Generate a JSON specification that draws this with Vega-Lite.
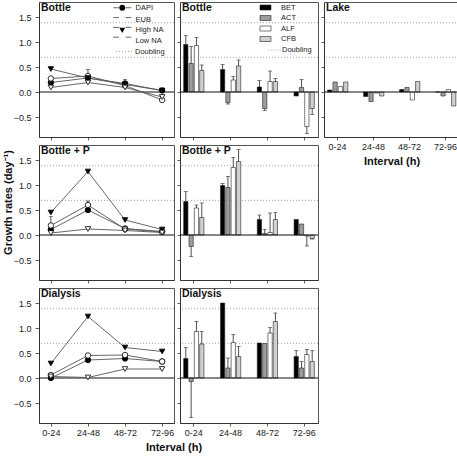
{
  "$schema": "https://vega.github.io/schema/vega-lite/v6.json",
  "padding": {"left": 1, "top": 1, "right": 0, "bottom": 0},
  "background": "white",
  "config": {
    "font": "Liberation Sans",
    "view": {"stroke": "#555", "strokeWidth": 1},
    "axis": {
      "labelFont": "Liberation Sans", "titleFont": "Liberation Sans",
      "labelFontSize": 9, "labelColor": "#222",
      "tickColor": "#333", "domainColor": "#333", "tickWidth": 0.8, "domainWidth": 1,
      "grid": false, "titleFontSize": 11, "titleFontWeight": "bold", "titleColor": "#111"
    },
    "legend": {"labelFont": "Liberation Sans", "labelFontSize": 7.5, "labelColor": "#222", "padding": 0, "title": null}
  },
  "datasets": {
    "doubling": [{"rate": 0.693, "k": "Doubling"}, {"rate": 1.386, "k": "Doubling"}],
    "zero": [{"rate": 0}],
    "lines": [
      {"panel": "Bottle", "interval": "0-24", "series": "DAPI", "rate": 0.19},
      {"panel": "Bottle", "interval": "24-48", "series": "DAPI", "rate": 0.28},
      {"panel": "Bottle", "interval": "48-72", "series": "DAPI", "rate": 0.17, "errEnd": 0.25},
      {"panel": "Bottle", "interval": "72-96", "series": "DAPI", "rate": 0.03},
      {"panel": "Bottle", "interval": "0-24", "series": "EUB", "rate": 0.27},
      {"panel": "Bottle", "interval": "24-48", "series": "EUB", "rate": 0.32, "errEnd": 0.45},
      {"panel": "Bottle", "interval": "48-72", "series": "EUB", "rate": 0.13},
      {"panel": "Bottle", "interval": "72-96", "series": "EUB", "rate": -0.16},
      {"panel": "Bottle", "interval": "0-24", "series": "High NA", "rate": 0.46},
      {"panel": "Bottle", "interval": "24-48", "series": "High NA", "rate": 0.28},
      {"panel": "Bottle", "interval": "48-72", "series": "High NA", "rate": 0.15},
      {"panel": "Bottle", "interval": "72-96", "series": "High NA", "rate": 0.03},
      {"panel": "Bottle", "interval": "0-24", "series": "Low NA", "rate": 0.09},
      {"panel": "Bottle", "interval": "24-48", "series": "Low NA", "rate": 0.19},
      {"panel": "Bottle", "interval": "48-72", "series": "Low NA", "rate": 0.09},
      {"panel": "Bottle", "interval": "72-96", "series": "Low NA", "rate": -0.10},
      {"panel": "Bottle + P", "interval": "0-24", "series": "DAPI", "rate": 0.11},
      {"panel": "Bottle + P", "interval": "24-48", "series": "DAPI", "rate": 0.50},
      {"panel": "Bottle + P", "interval": "48-72", "series": "DAPI", "rate": 0.13},
      {"panel": "Bottle + P", "interval": "72-96", "series": "DAPI", "rate": 0.07},
      {"panel": "Bottle + P", "interval": "0-24", "series": "EUB", "rate": 0.19, "errEnd": 0.37},
      {"panel": "Bottle + P", "interval": "24-48", "series": "EUB", "rate": 0.60, "errEnd": 0.68},
      {"panel": "Bottle + P", "interval": "48-72", "series": "EUB", "rate": 0.12},
      {"panel": "Bottle + P", "interval": "72-96", "series": "EUB", "rate": 0.06},
      {"panel": "Bottle + P", "interval": "0-24", "series": "High NA", "rate": 0.45},
      {"panel": "Bottle + P", "interval": "24-48", "series": "High NA", "rate": 1.27},
      {"panel": "Bottle + P", "interval": "48-72", "series": "High NA", "rate": 0.30},
      {"panel": "Bottle + P", "interval": "72-96", "series": "High NA", "rate": 0.11},
      {"panel": "Bottle + P", "interval": "0-24", "series": "Low NA", "rate": 0.04},
      {"panel": "Bottle + P", "interval": "24-48", "series": "Low NA", "rate": 0.12},
      {"panel": "Bottle + P", "interval": "48-72", "series": "Low NA", "rate": 0.09},
      {"panel": "Bottle + P", "interval": "72-96", "series": "Low NA", "rate": 0.05},
      {"panel": "Dialysis", "interval": "0-24", "series": "DAPI", "rate": 0.00},
      {"panel": "Dialysis", "interval": "24-48", "series": "DAPI", "rate": 0.36},
      {"panel": "Dialysis", "interval": "48-72", "series": "DAPI", "rate": 0.39},
      {"panel": "Dialysis", "interval": "72-96", "series": "DAPI", "rate": 0.33},
      {"panel": "Dialysis", "interval": "0-24", "series": "EUB", "rate": 0.06},
      {"panel": "Dialysis", "interval": "24-48", "series": "EUB", "rate": 0.45},
      {"panel": "Dialysis", "interval": "48-72", "series": "EUB", "rate": 0.46},
      {"panel": "Dialysis", "interval": "72-96", "series": "EUB", "rate": 0.33},
      {"panel": "Dialysis", "interval": "0-24", "series": "High NA", "rate": 0.29},
      {"panel": "Dialysis", "interval": "24-48", "series": "High NA", "rate": 1.23},
      {"panel": "Dialysis", "interval": "48-72", "series": "High NA", "rate": 0.61},
      {"panel": "Dialysis", "interval": "72-96", "series": "High NA", "rate": 0.53},
      {"panel": "Dialysis", "interval": "0-24", "series": "Low NA", "rate": 0.03},
      {"panel": "Dialysis", "interval": "24-48", "series": "Low NA", "rate": 0.01},
      {"panel": "Dialysis", "interval": "48-72", "series": "Low NA", "rate": 0.18},
      {"panel": "Dialysis", "interval": "72-96", "series": "Low NA", "rate": 0.18}
    ],
    "bars": [
      {"panel": "Bottle", "interval": "0-24", "group": "BET", "rate": 0.95, "errEnd": 1.13},
      {"panel": "Bottle", "interval": "0-24", "group": "ACT", "rate": 0.57, "errEnd": 0.91},
      {"panel": "Bottle", "interval": "0-24", "group": "ALF", "rate": 0.93, "errEnd": 1.09},
      {"panel": "Bottle", "interval": "0-24", "group": "CFB", "rate": 0.43, "errEnd": 0.54},
      {"panel": "Bottle", "interval": "24-48", "group": "BET", "rate": 0.45, "errEnd": 0.55},
      {"panel": "Bottle", "interval": "24-48", "group": "ACT", "rate": -0.21, "errEnd": -0.24},
      {"panel": "Bottle", "interval": "24-48", "group": "ALF", "rate": 0.24, "errEnd": 0.31},
      {"panel": "Bottle", "interval": "24-48", "group": "CFB", "rate": 0.52, "errEnd": 0.64},
      {"panel": "Bottle", "interval": "48-72", "group": "BET", "rate": 0.10, "errEnd": 0.23},
      {"panel": "Bottle", "interval": "48-72", "group": "ACT", "rate": -0.33, "errEnd": -0.37},
      {"panel": "Bottle", "interval": "48-72", "group": "ALF", "rate": 0.21, "errEnd": 0.42},
      {"panel": "Bottle", "interval": "48-72", "group": "CFB", "rate": 0.21, "errEnd": 0.27},
      {"panel": "Bottle", "interval": "72-96", "group": "BET", "rate": -0.08},
      {"panel": "Bottle", "interval": "72-96", "group": "ACT", "rate": 0.09, "errEnd": 0.25},
      {"panel": "Bottle", "interval": "72-96", "group": "ALF", "rate": -0.69, "errEnd": -0.83},
      {"panel": "Bottle", "interval": "72-96", "group": "CFB", "rate": -0.33, "errEnd": -0.45},
      {"panel": "Bottle + P", "interval": "0-24", "group": "BET", "rate": 0.67, "errEnd": 0.87},
      {"panel": "Bottle + P", "interval": "0-24", "group": "ACT", "rate": -0.23, "errEnd": -0.43},
      {"panel": "Bottle + P", "interval": "0-24", "group": "ALF", "rate": 0.54, "errEnd": 0.60},
      {"panel": "Bottle + P", "interval": "0-24", "group": "CFB", "rate": 0.35, "errEnd": 0.64},
      {"panel": "Bottle + P", "interval": "24-48", "group": "BET", "rate": 0.99, "errEnd": 1.03},
      {"panel": "Bottle + P", "interval": "24-48", "group": "ACT", "rate": 0.95, "errEnd": 1.17},
      {"panel": "Bottle + P", "interval": "24-48", "group": "ALF", "rate": 1.35, "errEnd": 1.55},
      {"panel": "Bottle + P", "interval": "24-48", "group": "CFB", "rate": 1.47, "errEnd": 1.71},
      {"panel": "Bottle + P", "interval": "48-72", "group": "BET", "rate": 0.31, "errEnd": 0.40},
      {"panel": "Bottle + P", "interval": "48-72", "group": "ACT", "rate": 0.03, "errEnd": 0.11},
      {"panel": "Bottle + P", "interval": "48-72", "group": "ALF", "rate": 0.05, "errEnd": 0.44},
      {"panel": "Bottle + P", "interval": "48-72", "group": "CFB", "rate": 0.31, "errEnd": 0.45},
      {"panel": "Bottle + P", "interval": "72-96", "group": "BET", "rate": 0.31},
      {"panel": "Bottle + P", "interval": "72-96", "group": "ACT", "rate": 0.22},
      {"panel": "Bottle + P", "interval": "72-96", "group": "ALF", "rate": -0.02, "errEnd": -0.22},
      {"panel": "Bottle + P", "interval": "72-96", "group": "CFB", "rate": -0.07, "errEnd": -0.08},
      {"panel": "Dialysis", "interval": "0-24", "group": "BET", "rate": 0.39, "errEnd": 0.61},
      {"panel": "Dialysis", "interval": "0-24", "group": "ACT", "rate": -0.07, "errEnd": -0.79},
      {"panel": "Dialysis", "interval": "0-24", "group": "ALF", "rate": 0.93, "errEnd": 1.13},
      {"panel": "Dialysis", "interval": "0-24", "group": "CFB", "rate": 0.68, "errEnd": 0.93},
      {"panel": "Dialysis", "interval": "24-48", "group": "BET", "rate": 1.50},
      {"panel": "Dialysis", "interval": "24-48", "group": "ACT", "rate": 0.20, "errEnd": 0.40},
      {"panel": "Dialysis", "interval": "24-48", "group": "ALF", "rate": 0.71, "errEnd": 0.87},
      {"panel": "Dialysis", "interval": "24-48", "group": "CFB", "rate": 0.43, "errEnd": 0.63},
      {"panel": "Dialysis", "interval": "48-72", "group": "BET", "rate": 0.70},
      {"panel": "Dialysis", "interval": "48-72", "group": "ACT", "rate": 0.69},
      {"panel": "Dialysis", "interval": "48-72", "group": "ALF", "rate": 0.90, "errEnd": 1.01},
      {"panel": "Dialysis", "interval": "48-72", "group": "CFB", "rate": 1.13, "errEnd": 1.30},
      {"panel": "Dialysis", "interval": "72-96", "group": "BET", "rate": 0.43, "errEnd": 0.55},
      {"panel": "Dialysis", "interval": "72-96", "group": "ACT", "rate": 0.20, "errEnd": 0.33},
      {"panel": "Dialysis", "interval": "72-96", "group": "ALF", "rate": 0.47, "errEnd": 0.57},
      {"panel": "Dialysis", "interval": "72-96", "group": "CFB", "rate": 0.33, "errEnd": 0.55},
      {"panel": "Lake", "interval": "0-24", "group": "BET", "rate": 0.04},
      {"panel": "Lake", "interval": "0-24", "group": "ACT", "rate": 0.20},
      {"panel": "Lake", "interval": "0-24", "group": "ALF", "rate": 0.11},
      {"panel": "Lake", "interval": "0-24", "group": "CFB", "rate": 0.20},
      {"panel": "Lake", "interval": "24-48", "group": "BET", "rate": -0.09},
      {"panel": "Lake", "interval": "24-48", "group": "ACT", "rate": -0.19},
      {"panel": "Lake", "interval": "24-48", "group": "ALF", "rate": -0.02},
      {"panel": "Lake", "interval": "24-48", "group": "CFB", "rate": -0.08},
      {"panel": "Lake", "interval": "48-72", "group": "BET", "rate": 0.05},
      {"panel": "Lake", "interval": "48-72", "group": "ACT", "rate": 0.09},
      {"panel": "Lake", "interval": "48-72", "group": "ALF", "rate": -0.16},
      {"panel": "Lake", "interval": "48-72", "group": "CFB", "rate": 0.21},
      {"panel": "Lake", "interval": "72-96", "group": "BET", "rate": 0.0},
      {"panel": "Lake", "interval": "72-96", "group": "ACT", "rate": -0.08},
      {"panel": "Lake", "interval": "72-96", "group": "ALF", "rate": 0.05},
      {"panel": "Lake", "interval": "72-96", "group": "CFB", "rate": -0.28}
    ]
  },
  "columns": 3,
  "spacing": {"row": 8, "column": 6},
  "bounds": "flush",
  "resolve": {
    "scale": {"fill": "independent", "shape": "independent", "strokeDash": "independent", "stroke": "independent"},
    "legend": {"fill": "independent", "shape": "independent", "strokeDash": "independent", "stroke": "independent"}
  },
  "concat": [
    {
      "width": 135, "height": 135,
      "title": {"text": "Bottle", "anchor": "start", "frame": "group", "offset": -11.5, "dx": 2, "fontSize": 10.5, "fontWeight": "bold", "color": "#111"},
      "encoding": {"y": {"field": "rate", "type": "quantitative", "scale": {"domain": [-0.9, 1.8], "nice": false}, "axis": {"values": [-0.5, 0, 0.5, 1, 1.5], "format": ".1f", "title": null, "tickSize": 4, "labelPadding": 4}}},
      "layer": [
        {"data": {"name": "doubling"}, "mark": {"type": "rule", "color": "#9a9a9a", "strokeWidth": 0.9},
         "encoding": {"strokeDash": {"field": "k", "type": "nominal", "scale": {"range": [[1, 2]]},
           "legend": {"orient": "none", "legendX": 76.5, "legendY": 41, "symbolType": "stroke", "symbolSize": 256, "labelOffset": 2.5, "symbolStrokeWidth": 0.9}}}},
        {"data": {"name": "zero"}, "mark": {"type": "rule", "color": "#111", "strokeWidth": 1}, "encoding": {}},
        {"data": {"name": "lines"}, "transform": [{"filter": "datum.panel === 'Bottle'"}],
         "encoding": {"x": {"field": "interval", "type": "nominal", "scale": {"type": "point", "domain": ["0-24", "24-48", "48-72", "72-96"], "padding": 0.32}, "axis": {"title": null, "labels": false, "tickSize": 3}}},
         "layer": [
           {"mark": {"type": "line", "strokeWidth": 0.9},
            "encoding": {"stroke": {"field": "series", "type": "nominal", "scale": {"domain": ["Low NA", "High NA", "EUB", "DAPI"], "range": ["#555555", "#555555", "#555555", "#555555"]},
              "legend": {"orient": "none", "legendX": 79.5, "legendY": 2, "symbolType": "M-3.3,0H-1.2M1.2,0H3.3", "symbolSize": 30, "labelOffset": 9.5, "rowPadding": 0.8, "symbolStrokeWidth": 0.9, "labelColor": "rgba(0,0,0,0)"}}}},
           {"transform": [{"filter": "isValid(datum.errEnd)"}], "mark": {"type": "rule", "color": "#222", "strokeWidth": 0.8}, "encoding": {"y2": {"field": "errEnd"}}},
           {"transform": [{"filter": "isValid(datum.errEnd)"}], "mark": {"type": "tick", "color": "#222", "size": 4, "thickness": 0.8, "orient": "horizontal"}, "encoding": {"y": {"field": "errEnd", "type": "quantitative", "axis": {"values": [-0.5, 0, 0.5, 1, 1.5], "format": ".1f", "title": null, "tickSize": 4, "labelPadding": 4}}}},
           {"mark": {"type": "point", "filled": true, "stroke": "#000", "strokeWidth": 0.8, "size": 30, "opacity": 1},
            "encoding": {
              "shape": {"field": "series", "type": "nominal", "scale": {"domain": ["DAPI", "EUB", "High NA", "Low NA"], "range": ["circle", "circle", "triangle-down", "triangle-down"]},
                "legend": {"orient": "none", "legendX": 79.5, "legendY": 2, "symbolSize": 34, "labelOffset": 9.5, "rowPadding": 0.8, "symbolStrokeColor": "#000", "symbolStrokeWidth": 1}},
              "fill": {"field": "series", "type": "nominal", "scale": {"domain": ["DAPI", "EUB", "High NA", "Low NA"], "range": ["#000000", "#ffffff", "#000000", "#ffffff"]},
                "legend": {"orient": "none", "legendX": 79.5, "legendY": 2, "symbolSize": 34, "labelOffset": 9.5, "rowPadding": 0.8, "symbolStrokeColor": "#000", "symbolStrokeWidth": 1}}
            }}
         ]}
      ]
    },
    {
      "width": 138, "height": 135,
      "title": {"text": "Bottle", "anchor": "start", "frame": "group", "offset": -11.5, "dx": 2, "fontSize": 10.5, "fontWeight": "bold", "color": "#111"},
      "encoding": {"y": {"field": "rate", "type": "quantitative", "scale": {"domain": [-0.9, 1.8], "nice": false}, "axis": {"values": [-0.5, 0, 0.5, 1, 1.5], "labels": false, "title": null, "tickSize": 3}}},
      "layer": [
        {"data": {"name": "doubling"}, "mark": {"type": "rule", "color": "#9a9a9a", "strokeWidth": 0.9},
         "encoding": {"strokeDash": {"field": "k", "type": "nominal", "scale": {"range": [[1, 2]]},
           "legend": {"orient": "none", "legendX": 87, "legendY": 41, "symbolType": "stroke", "symbolSize": 169, "labelOffset": 1, "symbolStrokeWidth": 0.9}}}},
        {"data": {"name": "bars"}, "transform": [{"filter": "datum.panel === 'Bottle'"}],
         "encoding": {
           "x": {"field": "interval", "type": "nominal", "scale": {"type": "band", "domain": ["0-24", "24-48", "48-72", "72-96"], "paddingInner": 0.45, "paddingOuter": 0.1}, "axis": {"title": null, "labels": false, "tickSize": 3}},
           "xOffset": {"field": "group", "type": "nominal", "scale": {"domain": ["BET", "ACT", "ALF", "CFB"], "paddingInner": 0.2, "paddingOuter": 0}}
         },
         "layer": [
           {"mark": {"type": "bar", "stroke": "#222", "strokeWidth": 0.6},
            "encoding": {"fill": {"field": "group", "type": "nominal", "scale": {"domain": ["BET", "ACT", "ALF", "CFB"], "range": ["#000000", "#9c9c9c", "#ffffff", "#d0d0d0"]},
              "legend": {"orient": "none", "legendX": 80, "legendY": 0, "symbolType": "M-1.1,-0.5H1.1V0.5H-1.1Z", "symbolSize": 100, "labelOffset": 10, "rowPadding": 0.5, "symbolStrokeColor": "#222", "symbolStrokeWidth": 0.6}}}},
           {"transform": [{"filter": "isValid(datum.errEnd)"}], "mark": {"type": "rule", "color": "#222", "strokeWidth": 0.8}, "encoding": {"y2": {"field": "errEnd"}}},
           {"transform": [{"filter": "isValid(datum.errEnd)"}], "mark": {"type": "tick", "color": "#222", "size": 4, "thickness": 0.8, "orient": "horizontal"}, "encoding": {"y": {"field": "errEnd", "type": "quantitative", "axis": {"values": [-0.5, 0, 0.5, 1, 1.5], "labels": false, "title": null, "tickSize": 3}}}}
         ]},
        {"data": {"name": "zero"}, "mark": {"type": "rule", "color": "#111", "strokeWidth": 1}, "encoding": {}}
      ]
    },
    {
      "width": 135, "height": 135,
      "title": {"text": "Lake", "anchor": "start", "frame": "group", "offset": -11.5, "dx": 2, "fontSize": 10.5, "fontWeight": "bold", "color": "#111"},
      "encoding": {"y": {"field": "rate", "type": "quantitative", "scale": {"domain": [-0.9, 1.8], "nice": false}, "axis": {"values": [-0.5, 0, 0.5, 1, 1.5], "labels": false, "title": null, "tickSize": 3}}},
      "layer": [
        {"data": {"name": "doubling"}, "mark": {"type": "rule", "color": "#9a9a9a", "strokeWidth": 0.9},
         "encoding": {"strokeDash": {"field": "k", "type": "nominal", "scale": {"range": [[1, 2]]}, "legend": null}}},
        {"data": {"name": "bars"}, "transform": [{"filter": "datum.panel === 'Lake'"}],
         "encoding": {
           "x": {"field": "interval", "type": "nominal", "scale": {"type": "band", "domain": ["0-24", "24-48", "48-72", "72-96"], "paddingInner": 0.45, "paddingOuter": 0.1}, "axis": {"title": "Interval (h)", "labelAngle": 0, "tickSize": 3, "labelPadding": 2.5, "titlePadding": 4}},
           "xOffset": {"field": "group", "type": "nominal", "scale": {"domain": ["BET", "ACT", "ALF", "CFB"], "paddingInner": 0.2, "paddingOuter": 0}}
         },
         "layer": [
           {"mark": {"type": "bar", "stroke": "#222", "strokeWidth": 0.6},
            "encoding": {"fill": {"field": "group", "type": "nominal", "scale": {"domain": ["BET", "ACT", "ALF", "CFB"], "range": ["#000000", "#9c9c9c", "#ffffff", "#d0d0d0"]}, "legend": null}}}
         ]},
        {"data": {"name": "zero"}, "mark": {"type": "rule", "color": "#111", "strokeWidth": 1}, "encoding": {}}
      ]
    },
    {
      "width": 135, "height": 135,
      "title": {"text": "Bottle + P", "anchor": "start", "frame": "group", "offset": -11.5, "dx": 2, "fontSize": 10.5, "fontWeight": "bold", "color": "#111"},
      "encoding": {"y": {"field": "rate", "type": "quantitative", "scale": {"domain": [-0.9, 1.8], "nice": false}, "axis": {"values": [-0.5, 0, 0.5, 1, 1.5], "format": ".1f", "title": "Growth rates (day⁻¹)", "titleY": 57, "tickSize": 4, "labelPadding": 4, "titlePadding": 0}}},
      "layer": [
        {"data": {"name": "doubling"}, "mark": {"type": "rule", "color": "#9a9a9a", "strokeWidth": 0.9},
         "encoding": {"strokeDash": {"field": "k", "type": "nominal", "scale": {"range": [[1, 2]]}, "legend": null}}},
        {"data": {"name": "zero"}, "mark": {"type": "rule", "color": "#111", "strokeWidth": 1}, "encoding": {}},
        {"data": {"name": "lines"}, "transform": [{"filter": "datum.panel === 'Bottle + P'"}],
         "encoding": {"x": {"field": "interval", "type": "nominal", "scale": {"type": "point", "domain": ["0-24", "24-48", "48-72", "72-96"], "padding": 0.32}, "axis": {"title": null, "labels": false, "tickSize": 3}}},
         "layer": [
           {"mark": {"type": "line", "color": "#555", "strokeWidth": 0.9}, "encoding": {"detail": {"field": "series"}}},
           {"transform": [{"filter": "isValid(datum.errEnd)"}], "mark": {"type": "rule", "color": "#222", "strokeWidth": 0.8}, "encoding": {"y2": {"field": "errEnd"}}},
           {"transform": [{"filter": "isValid(datum.errEnd)"}], "mark": {"type": "tick", "color": "#222", "size": 4, "thickness": 0.8, "orient": "horizontal"}, "encoding": {"y": {"field": "errEnd", "type": "quantitative", "axis": {"values": [-0.5, 0, 0.5, 1, 1.5], "format": ".1f", "title": "Growth rates (day⁻¹)", "titleY": 57, "tickSize": 4, "labelPadding": 4, "titlePadding": 0}}}},
           {"mark": {"type": "point", "filled": true, "stroke": "#000", "strokeWidth": 0.8, "size": 30, "opacity": 1},
            "encoding": {
              "shape": {"field": "series", "type": "nominal", "scale": {"domain": ["DAPI", "EUB", "High NA", "Low NA"], "range": ["circle", "circle", "triangle-down", "triangle-down"]}, "legend": null},
              "fill": {"field": "series", "type": "nominal", "scale": {"domain": ["DAPI", "EUB", "High NA", "Low NA"], "range": ["#000000", "#ffffff", "#000000", "#ffffff"]}, "legend": null}
            }}
         ]}
      ]
    },
    {
      "width": 138, "height": 135,
      "title": {"text": "Bottle + P", "anchor": "start", "frame": "group", "offset": -11.5, "dx": 2, "fontSize": 10.5, "fontWeight": "bold", "color": "#111"},
      "encoding": {"y": {"field": "rate", "type": "quantitative", "scale": {"domain": [-0.9, 1.8], "nice": false}, "axis": {"values": [-0.5, 0, 0.5, 1, 1.5], "labels": false, "title": null, "tickSize": 3}}},
      "layer": [
        {"data": {"name": "doubling"}, "mark": {"type": "rule", "color": "#9a9a9a", "strokeWidth": 0.9},
         "encoding": {"strokeDash": {"field": "k", "type": "nominal", "scale": {"range": [[1, 2]]}, "legend": null}}},
        {"data": {"name": "bars"}, "transform": [{"filter": "datum.panel === 'Bottle + P'"}],
         "encoding": {
           "x": {"field": "interval", "type": "nominal", "scale": {"type": "band", "domain": ["0-24", "24-48", "48-72", "72-96"], "paddingInner": 0.45, "paddingOuter": 0.1}, "axis": {"title": null, "labels": false, "tickSize": 3}},
           "xOffset": {"field": "group", "type": "nominal", "scale": {"domain": ["BET", "ACT", "ALF", "CFB"], "paddingInner": 0.2, "paddingOuter": 0}}
         },
         "layer": [
           {"mark": {"type": "bar", "stroke": "#222", "strokeWidth": 0.6},
            "encoding": {"fill": {"field": "group", "type": "nominal", "scale": {"domain": ["BET", "ACT", "ALF", "CFB"], "range": ["#000000", "#9c9c9c", "#ffffff", "#d0d0d0"]}, "legend": null}}},
           {"transform": [{"filter": "isValid(datum.errEnd)"}], "mark": {"type": "rule", "color": "#222", "strokeWidth": 0.8}, "encoding": {"y2": {"field": "errEnd"}}},
           {"transform": [{"filter": "isValid(datum.errEnd)"}], "mark": {"type": "tick", "color": "#222", "size": 4, "thickness": 0.8, "orient": "horizontal"}, "encoding": {"y": {"field": "errEnd", "type": "quantitative", "axis": {"values": [-0.5, 0, 0.5, 1, 1.5], "labels": false, "title": null, "tickSize": 3}}}}
         ]},
        {"data": {"name": "zero"}, "mark": {"type": "rule", "color": "#111", "strokeWidth": 1}, "encoding": {}}
      ]
    },
    {
      "width": 135, "height": 135,
      "view": {"stroke": null},
      "data": {"name": "zero"},
      "mark": {"type": "text", "text": ""},
      "encoding": {}
    },
    {
      "width": 135, "height": 135,
      "title": {"text": "Dialysis", "anchor": "start", "frame": "group", "offset": -11.5, "dx": 2, "fontSize": 10.5, "fontWeight": "bold", "color": "#111"},
      "encoding": {"y": {"field": "rate", "type": "quantitative", "scale": {"domain": [-0.9, 1.8], "nice": false}, "axis": {"values": [-0.5, 0, 0.5, 1, 1.5], "format": ".1f", "title": null, "tickSize": 4, "labelPadding": 4}}},
      "layer": [
        {"data": {"name": "doubling"}, "mark": {"type": "rule", "color": "#9a9a9a", "strokeWidth": 0.9},
         "encoding": {"strokeDash": {"field": "k", "type": "nominal", "scale": {"range": [[1, 2]]}, "legend": null}}},
        {"data": {"name": "zero"}, "mark": {"type": "rule", "color": "#111", "strokeWidth": 1}, "encoding": {}},
        {"data": {"name": "lines"}, "transform": [{"filter": "datum.panel === 'Dialysis'"}],
         "encoding": {"x": {"field": "interval", "type": "nominal", "scale": {"type": "point", "domain": ["0-24", "24-48", "48-72", "72-96"], "padding": 0.32}, "axis": {"title": "Interval (h)", "titleX": 134.5, "titleAlign": "center", "titlePadding": 4, "labelAngle": 0, "tickSize": 3, "labelPadding": 2.5}}},
         "layer": [
           {"mark": {"type": "line", "color": "#555", "strokeWidth": 0.9}, "encoding": {"detail": {"field": "series"}}},
           {"mark": {"type": "point", "filled": true, "stroke": "#000", "strokeWidth": 0.8, "size": 30, "opacity": 1},
            "encoding": {
              "shape": {"field": "series", "type": "nominal", "scale": {"domain": ["DAPI", "EUB", "High NA", "Low NA"], "range": ["circle", "circle", "triangle-down", "triangle-down"]}, "legend": null},
              "fill": {"field": "series", "type": "nominal", "scale": {"domain": ["DAPI", "EUB", "High NA", "Low NA"], "range": ["#000000", "#ffffff", "#000000", "#ffffff"]}, "legend": null}
            }}
         ]}
      ]
    },
    {
      "width": 138, "height": 135,
      "title": {"text": "Dialysis", "anchor": "start", "frame": "group", "offset": -11.5, "dx": 2, "fontSize": 10.5, "fontWeight": "bold", "color": "#111"},
      "encoding": {"y": {"field": "rate", "type": "quantitative", "scale": {"domain": [-0.9, 1.8], "nice": false}, "axis": {"values": [-0.5, 0, 0.5, 1, 1.5], "labels": false, "title": null, "tickSize": 3}}},
      "layer": [
        {"data": {"name": "doubling"}, "mark": {"type": "rule", "color": "#9a9a9a", "strokeWidth": 0.9},
         "encoding": {"strokeDash": {"field": "k", "type": "nominal", "scale": {"range": [[1, 2]]}, "legend": null}}},
        {"data": {"name": "bars"}, "transform": [{"filter": "datum.panel === 'Dialysis'"}],
         "encoding": {
           "x": {"field": "interval", "type": "nominal", "scale": {"type": "band", "domain": ["0-24", "24-48", "48-72", "72-96"], "paddingInner": 0.45, "paddingOuter": 0.1}, "axis": {"title": null, "labelAngle": 0, "tickSize": 3, "labelPadding": 2.5}},
           "xOffset": {"field": "group", "type": "nominal", "scale": {"domain": ["BET", "ACT", "ALF", "CFB"], "paddingInner": 0.2, "paddingOuter": 0}}
         },
         "layer": [
           {"mark": {"type": "bar", "stroke": "#222", "strokeWidth": 0.6},
            "encoding": {"fill": {"field": "group", "type": "nominal", "scale": {"domain": ["BET", "ACT", "ALF", "CFB"], "range": ["#000000", "#9c9c9c", "#ffffff", "#d0d0d0"]}, "legend": null}}},
           {"transform": [{"filter": "isValid(datum.errEnd)"}], "mark": {"type": "rule", "color": "#222", "strokeWidth": 0.8}, "encoding": {"y2": {"field": "errEnd"}}},
           {"transform": [{"filter": "isValid(datum.errEnd)"}], "mark": {"type": "tick", "color": "#222", "size": 4, "thickness": 0.8, "orient": "horizontal"}, "encoding": {"y": {"field": "errEnd", "type": "quantitative", "axis": {"values": [-0.5, 0, 0.5, 1, 1.5], "labels": false, "title": null, "tickSize": 3}}}}
         ]},
        {"data": {"name": "zero"}, "mark": {"type": "rule", "color": "#111", "strokeWidth": 1}, "encoding": {}}
      ]
    }
  ]
}
